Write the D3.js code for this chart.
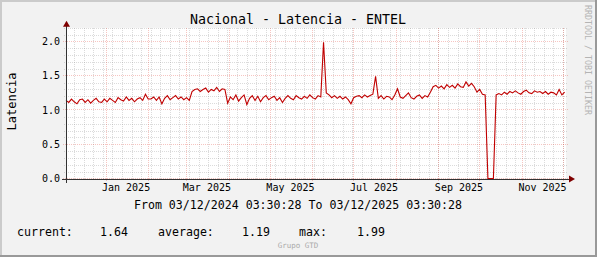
<!DOCTYPE html>
<html lang="es">
<head>
<meta charset="utf-8">
<title>Nacional - Latencia - ENTEL</title>
<script src="https://d3js.org/d3.v7.min.js"></script>
<style>
  body { margin: 0; background: #f2f2f2; }
  text { font-family: "DejaVu Sans Mono", monospace; }
</style>
</head>
<body>
<div id="chart"></div>
<script type="text/javascript">

// data: one sample every 2 days from the start time
var startTime = new Date(2024, 11, 3, 3, 30, 28);
var endTime = new Date(2025, 11, 3, 3, 30, 28);
var stepDays = 2;

var latencia = [
  // dec
  1.14, 1.11, 1.16, 1.12, 1.09, 1.15, 1.16, 1.11, 1.15, 1.10, 1.14, 1.17, 1.12, 1.11, 1.16,
  // jan
  1.12, 1.17, 1.14, 1.11, 1.18, 1.15, 1.13, 1.19, 1.14, 1.17, 1.12, 1.16, 1.18, 1.14, 1.23, 1.16,
  // feb
  1.16, 1.19, 1.14, 1.19, 1.09, 1.17, 1.21, 1.15, 1.18, 1.21, 1.16, 1.19, 1.15, 1.18, 1.14,
  // early mar
  1.27, 1.30, 1.31, 1.27, 1.30, 1.32, 1.26, 1.30, 1.28, 1.33, 1.27, 1.31, 1.30,
  // mar - may
  1.10, 1.19, 1.15, 1.22, 1.13, 1.18, 1.22, 1.08, 1.17, 1.21,
  1.14, 1.20, 1.12, 1.18, 1.21, 1.15, 1.18, 1.20, 1.14, 1.18,
  1.11, 1.17, 1.21, 1.17, 1.15, 1.21, 1.18, 1.16, 1.20, 1.17,
  1.22, 1.18, 1.16, 1.21, 1.19,
  // spike
  1.99, 1.25, 1.22,
  // jun
  1.18, 1.21, 1.17, 1.20, 1.16, 1.19, 1.15, 1.09, 1.18, 1.20, 1.21, 1.18, 1.22, 1.19, 1.21, 1.23,
  // spike
  1.49,
  // jul - aug
  1.17, 1.21, 1.16, 1.20, 1.19, 1.15, 1.22, 1.31, 1.19, 1.17, 1.21, 1.25, 1.18, 1.16, 1.20, 1.22, 1.17, 1.21, 1.19,
  // aug - sep
  1.26, 1.34, 1.36, 1.32, 1.35, 1.31, 1.37, 1.33, 1.36, 1.32, 1.38, 1.34, 1.33, 1.41, 1.35, 1.39, 1.34,
  // drop
  1.26, 1.30, 1.23, 1.22, 0.00, 0.00, 0.00,
  // oct - nov
  1.22, 1.24, 1.22, 1.26, 1.23, 1.27, 1.25, 1.28, 1.25, 1.23, 1.27, 1.29, 1.25,
  1.24, 1.28, 1.26, 1.27, 1.24, 1.27, 1.23, 1.26, 1.25, 1.22, 1.30, 1.22, 1.26
];

var yMajor = [0, 0.5, 1.0, 1.5, 2.0];
var yMinorStep = 0.1;
var yMax = 2.2;

var titleText = "Nacional - Latencia - ENTEL";
var yTitle = "Latencia";
var periodText = "From 03/12/2024 03:30:28 To 03/12/2025 03:30:28";
var legendLabels = ["current:", "average:", "max:"];
var legendValues = ["1.64", "1.19", "1.99"];
var footerText = "Grupo GTD";
var watermark = "RRDTOOL / TOBI OETIKER";

var w = 597;
var h = 257;

var svg = d3.select("#chart").append("svg")
  .attr("width", w)
  .attr("height", h)
  .style("display", "block");

// background with rrdtool style shading
svg.append("rect").attr("width", w).attr("height", h).attr("fill", "#f2f2f2");
svg.append("path").attr("d", "M0,0H" + w + "V2H2V" + h + "H0Z").attr("fill", "#cbcbcb");
svg.append("path").attr("d", "M" + w + "," + h + "H0V" + (h - 2) + "H" + (w - 2) + "V0H" + w + "Z").attr("fill", "#999999");

var x = d3.scaleTime().domain([startTime, endTime]).range([66, 566]);
var y = d3.scaleLinear().domain([0, yMax]).range([178.5, 178.5 - yMax * 68.5]);

var x0 = x.range()[0], x1 = x.range()[1];
var yBottom = y(0), yTop = y(yMax);

// canvas
svg.append("rect")
  .attr("x", x0).attr("y", yTop)
  .attr("width", x1 - x0).attr("height", yBottom - yTop)
  .attr("fill", "#ffffff");

var grid = svg.append("g").attr("shape-rendering", "crispEdges");
var minorColor = "rgba(143,143,143,0.32)";
var majorColor = "rgba(222,48,32,0.28)";

// minor horizontal grid
var yMinor = d3.range(0, yMax + 0.0001, yMinorStep).filter(function(v) {
  return yMajor.indexOf(Math.round(v * 10) / 10) < 0;
});
grid.selectAll(".hminor").data(yMinor).enter().append("line")
  .attr("x1", x0 - 2).attr("x2", x1 + 2)
  .attr("y1", function(d) { return Math.round(y(d)) + 0.5; })
  .attr("y2", function(d) { return Math.round(y(d)) + 0.5; })
  .attr("stroke", minorColor)
  .attr("stroke-dasharray", "1,1");

// minor vertical grid, weekly
var weeks = d3.timeMonday.range(startTime, endTime);
grid.selectAll(".vminor").data(weeks).enter().append("line")
  .attr("x1", function(d) { return Math.round(x(d)) + 0.5; })
  .attr("x2", function(d) { return Math.round(x(d)) + 0.5; })
  .attr("y1", yTop).attr("y2", yBottom + 2)
  .attr("stroke", minorColor)
  .attr("stroke-dasharray", "1,1");

// major horizontal grid
grid.selectAll(".hmajor").data(yMajor).enter().append("line")
  .attr("x1", x0 - 3).attr("x2", x1 + 2)
  .attr("y1", function(d) { return Math.round(y(d) - 0.5) + 0.5; })
  .attr("y2", function(d) { return Math.round(y(d) - 0.5) + 0.5; })
  .attr("stroke", majorColor)
  .attr("stroke-dasharray", "1,1");

// major vertical grid, monthly
var months = d3.timeMonth.range(startTime, endTime);
grid.selectAll(".vmajor").data(months).enter().append("line")
  .attr("x1", function(d) { return Math.round(x(d)) + 0.5; })
  .attr("x2", function(d) { return Math.round(x(d)) + 0.5; })
  .attr("y1", yTop).attr("y2", yBottom + 3)
  .attr("stroke", majorColor)
  .attr("stroke-dasharray", "1,1");

// y tick labels
svg.selectAll(".ylab").data(yMajor).enter().append("text")
  .attr("x", 60)
  .attr("y", function(d) { return y(d) + 3.5; })
  .attr("text-anchor", "end")
  .attr("font-size", "10px")
  .attr("fill", "#000")
  .text(function(d) { return d3.format(".1f")(d); });

// x tick labels, every second month, centred half a month in
var labelMonths = months.filter(function(d) { return d.getMonth() % 2 === 0; });
svg.selectAll(".xlab").data(labelMonths).enter().append("text")
  .attr("x", function(d) { return x(d3.timeDay.offset(d, 15)); })
  .attr("y", 191)
  .attr("text-anchor", "middle")
  .attr("font-size", "10px")
  .attr("fill", "#000")
  .text(function(d) { return d3.timeFormat("%b %Y")(d); });

// data line
var series = latencia.map(function(v, i) {
  return { t: d3.timeDay.offset(startTime, i * stepDays), v: v };
});
var line = d3.line()
  .x(function(d) { return x(d.t); })
  .y(function(d) { return y(d.v); });

svg.append("path")
  .datum(series)
  .attr("d", line)
  .attr("fill", "none")
  .attr("stroke", "#c00000")
  .attr("stroke-width", 1.1);

// axes and arrows
var axes = svg.append("g").attr("shape-rendering", "crispEdges");
axes.append("line")
  .attr("x1", x0 - 4).attr("x2", x1 + 3)
  .attr("y1", Math.round(yBottom) + 0.5).attr("y2", Math.round(yBottom) + 0.5)
  .attr("stroke", "#333");
axes.append("line")
  .attr("x1", x0 + 0.5).attr("x2", x0 + 0.5)
  .attr("y1", yBottom + 4).attr("y2", yTop - 2)
  .attr("stroke", "#333");
svg.append("path")
  .attr("d", "M" + (x1 + 3) + "," + (yBottom - 3) + "L" + (x1 + 9) + "," + (yBottom + 0.5) + "L" + (x1 + 3) + "," + (yBottom + 4) + "Z")
  .attr("fill", "#7f0000");
svg.append("path")
  .attr("d", "M" + (x0 - 3) + "," + (yTop - 1) + "L" + (x0 + 0.5) + "," + (yTop - 7) + "L" + (x0 + 4) + "," + (yTop - 1) + "Z")
  .attr("fill", "#7f0000");

// title
svg.append("text")
  .attr("x", 298).attr("y", 24)
  .attr("text-anchor", "middle")
  .attr("font-size", "13.3px")
  .attr("fill", "#000")
  .text(titleText);

// vertical axis title
svg.append("text")
  .attr("transform", "translate(16,101.5) rotate(-90)")
  .attr("text-anchor", "middle")
  .attr("font-size", "12px")
  .attr("fill", "#000")
  .text(yTitle);

// period
svg.append("text")
  .attr("x", 298).attr("y", 208.5)
  .attr("text-anchor", "middle")
  .attr("font-size", "11.6px")
  .attr("fill", "#000")
  .text(periodText);

// legend
var labelX = [17, 158, 299];
var valueX = [100, 242, 357];
svg.selectAll(".leglab").data(legendLabels).enter().append("text")
  .attr("x", function(d, i) { return labelX[i]; })
  .attr("y", 236)
  .attr("font-size", "11.6px")
  .attr("fill", "#000")
  .text(function(d) { return d; });
svg.selectAll(".legval").data(legendValues).enter().append("text")
  .attr("x", function(d, i) { return valueX[i]; })
  .attr("y", 236)
  .attr("font-size", "11.6px")
  .attr("fill", "#000")
  .text(function(d) { return d; });

// footer and watermark
svg.append("text")
  .attr("x", 298).attr("y", 248)
  .attr("text-anchor", "middle")
  .attr("font-size", "7.5px")
  .attr("fill", "#aaaaaa")
  .text(footerText);

svg.append("text")
  .attr("transform", "translate(585,5) rotate(90)")
  .attr("font-size", "8.3px")
  .attr("fill", "#b4b4b4")
  .text(watermark);

</script>
</body>
</html>
